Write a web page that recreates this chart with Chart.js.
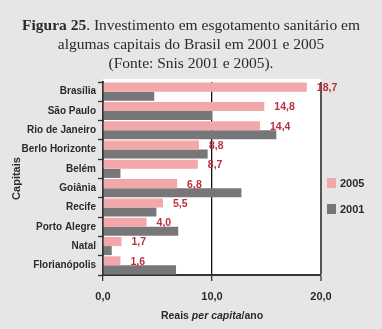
<!DOCTYPE html>
<html>
<head>
<meta charset="utf-8">
<script src="https://cdn.jsdelivr.net/npm/chart.js@4"></script>
<style>
  html, body { margin: 0; padding: 0; background: #e6e6e7; }
  #wrap { position: relative; width: 382px; height: 329px; overflow: hidden; }
  #title {
    position: absolute; left: 0; top: 15px; width: 382px;
    text-align: center; font-family: "Liberation Serif", serif;
    font-size: 15.5px; line-height: 19px; color: #2a2a2a;
  }
  #title b { font-weight: bold; }
  canvas { position: absolute; left: 0; top: 0; }
</style>
</head>
<body>
<div id="wrap">
  <canvas id="chart" width="382" height="329"></canvas>
  <div id="title"><b>Figura 25</b>. Investimento em esgotamento sanitário em<br>algumas capitais do Brasil em 2001 e 2005<br>(Fonte: Snis 2001 e 2005).</div>
</div>
<script>
// Data (R$ per capita per year).
const capitais = ["Brasília", "São Paulo", "Rio de Janeiro", "Berlo Horizonte", "Belém",
  "Goiânia", "Recife", "Porto Alegre", "Natal", "Florianópolis"];
const valores2005 = [18.7, 14.8, 14.4, 8.8, 8.7, 6.8, 5.5, 4.0, 1.7, 1.6];
const valores2001 = [4.7, 10.0, 15.9, 9.6, 1.6, 12.7, 4.9, 6.9, 0.8, 6.7];
const xTicks = [0, 10, 20];

const COLORS = { y2005: "#f2a7aa", y2001: "#77777a", label: "#bc2f3c", ink: "#2b2b2b" };
const FONT = '"Liberation Sans", Arial, sans-serif';

const fmt = v => v.toFixed(1).replace(".", ",");

// White plot box, value labels on the 2005 bars, legend and x title.
const decor = {
  id: "decor",
  beforeDraw(chart) {
    const { ctx, chartArea: a } = chart;
    ctx.save();
    ctx.fillStyle = "#ffffff";
    ctx.fillRect(a.left, a.top - 3, a.right - a.left, a.bottom - a.top + 3);
    ctx.restore();
  },
  afterDraw(chart) {
    const { ctx, chartArea: a } = chart;
    ctx.save();
    // value labels
    ctx.font = "bold 10.5px " + FONT;
    ctx.fillStyle = COLORS.label;
    ctx.textBaseline = "middle";
    ctx.textAlign = "left";
    chart.getDatasetMeta(0).data.forEach((bar, i) => {
      ctx.fillText(fmt(valores2005[i]), bar.x + 10, bar.y + 1);
    });
    // legend
    const items = chart.data.datasets.map(d => ({ text: d.label, color: d.backgroundColor }));
    ctx.font = "bold 11px " + FONT;
    items.forEach((it, i) => {
      const y = 183 + i * 26;
      ctx.fillStyle = it.color;
      ctx.fillRect(327, y - 5, 9, 10);
      ctx.fillStyle = COLORS.ink;
      ctx.fillText(it.text, 340, y + 1);
    });
    // x axis title with italic part
    const parts = [["bold ", "Reais "], ["italic bold ", "per capita"], ["bold ", "/ano"]];
    let total = 0;
    parts.forEach(p => { ctx.font = p[0] + "10.5px " + FONT; total += ctx.measureText(p[1]).width; });
    let x = (a.left + a.right) / 2 - total / 2;
    ctx.fillStyle = COLORS.ink;
    parts.forEach(p => {
      ctx.font = p[0] + "10.5px " + FONT;
      ctx.fillText(p[1], x, 316);
      x += ctx.measureText(p[1]).width;
    });
    ctx.restore();
  }
};

new Chart(document.getElementById("chart").getContext("2d"), {
  type: "bar",
  data: {
    labels: capitais,
    datasets: [
      { label: "2005", data: valores2005, backgroundColor: COLORS.y2005 },
      { label: "2001", data: valores2001, backgroundColor: COLORS.y2001 }
    ]
  },
  options: {
    indexAxis: "y",
    responsive: false,
    animation: false,
    layout: { padding: { top: 82, right: 61, left: 0, bottom: 0 } },
    datasets: { bar: { categoryPercentage: 0.94, barPercentage: 1.0 } },
    plugins: { legend: { display: false }, tooltip: { enabled: false } },
    scales: {
      x: {
        min: 0, max: 20, z: 1,
        afterBuildTicks: s => { s.ticks = xTicks.map(v => ({ value: v })); },
        afterFit: s => { s.height = 54; },
        border: { color: "#333", width: 2 },
        grid: {
          drawOnChartArea: true, tickLength: 6,
          color: c => c.tick && c.tick.value === 10 ? "#111" : (c.tick && c.tick.value === 20 ? "#555" : "rgba(0,0,0,0)"),
          lineWidth: c => c.tick && c.tick.value === 20 ? 2 : 1.3,
          tickColor: "#333", tickWidth: 1.3
        },
        ticks: {
          padding: 9, color: COLORS.ink,
          font: { family: FONT, size: 11, weight: "bold" },
          callback: v => fmt(v)
        }
      },
      y: {
        afterFit: s => { s.width = 103; },
        border: { color: "#333", width: 2 },
        grid: { offset: true, drawOnChartArea: false, tickLength: 5, tickColor: "#333", tickWidth: 1.3 },
        ticks: { padding: 2, color: COLORS.ink, font: { family: FONT, size: 10, weight: "bold" } },
        title: {
          display: true, text: "Capitais", color: COLORS.ink,
          font: { family: FONT, size: 11, weight: "bold" },
          padding: { top: 10, bottom: 0 }
        }
      }
    }
  },
  plugins: [decor]
});
</script>
</body>
</html>
